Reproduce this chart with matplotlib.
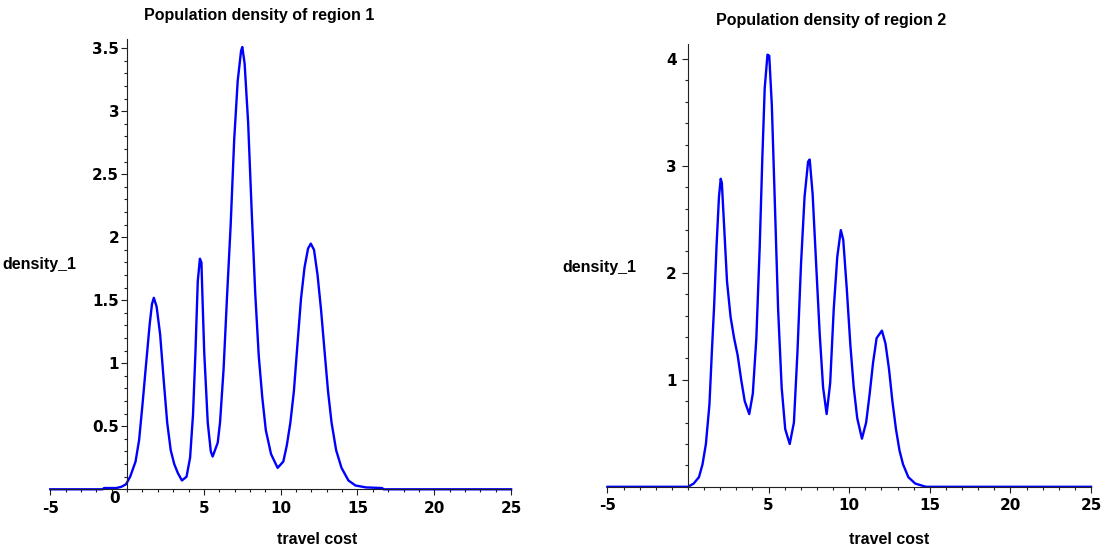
import numpy as np
import matplotlib.pyplot as plt
from matplotlib.ticker import MultipleLocator, FixedLocator, FixedFormatter

plt.rcParams['font.family'] = ['Liberation Sans', 'DejaVu Sans']
plt.rcParams['font.weight'] = 'bold'

# travel cost samples and population densities, region 1
cost_1 = [-5, -1.6, -1.5, -0.7, -0.37, -0.07, 0.2, 0.55, 0.78, 1.0, 1.24, 1.47, 1.62, 1.74,
          1.92, 2.15, 2.38, 2.61, 2.84, 3.07, 3.30, 3.57, 3.87, 4.1, 4.29, 4.45, 4.6, 4.74,
          4.84, 4.9, 5.02, 5.25, 5.45, 5.57, 5.75, 5.9, 6.05, 6.28, 6.51, 6.74, 6.97, 7.2,
          7.42, 7.5, 7.65, 7.88, 8.11, 8.34, 8.57, 8.8, 9.03, 9.37, 9.8, 10.17, 10.4, 10.63,
          10.86, 11.09, 11.32, 11.55, 11.78, 11.96, 12.17, 12.4, 12.63, 12.86, 13.08, 13.31,
          13.61, 13.96, 14.41, 14.87, 15.56, 16.6, 16.7, 25]
density_1 = [0, 0, 0.01, 0.01, 0.02, 0.04, 0.10, 0.22, 0.39, 0.67, 1.00, 1.31, 1.47, 1.52,
             1.45, 1.23, 0.87, 0.53, 0.31, 0.20, 0.13, 0.07, 0.10, 0.25, 0.59, 1.09, 1.65, 1.83,
             1.80, 1.55, 1.09, 0.53, 0.30, 0.26, 0.32, 0.37, 0.53, 0.95, 1.54, 2.09, 2.77, 3.24,
             3.48, 3.51, 3.38, 2.91, 2.21, 1.56, 1.06, 0.73, 0.47, 0.28, 0.17, 0.22, 0.35, 0.53,
             0.78, 1.15, 1.51, 1.76, 1.91, 1.95, 1.90, 1.70, 1.42, 1.09, 0.78, 0.53,
             0.31, 0.17, 0.07, 0.03, 0.015, 0.01, 0, 0]

# region 2
cost_2 = [-5, 0, 0.35, 0.68, 0.9, 1.11, 1.33, 1.48, 1.62, 1.77, 1.92, 2.03, 2.1, 2.25, 2.42,
          2.64, 2.86, 3.08, 3.3, 3.52, 3.8, 4.02, 4.24, 4.45, 4.61, 4.76, 4.93, 5.04, 5.2,
          5.37, 5.59, 5.81, 6.03, 6.31, 6.57, 6.79, 7.01, 7.23, 7.45, 7.55, 7.73, 7.95, 8.17,
          8.38, 8.6, 8.82, 9.04, 9.26, 9.48, 9.63, 9.85, 10.07, 10.28, 10.5, 10.79, 11.05,
          11.27, 11.48, 11.7, 12.03, 12.25, 12.47, 12.68, 12.9, 13.12, 13.34, 13.67, 14.1,
          14.54, 14.76, 25]
density_2 = [0, 0, 0.03, 0.09, 0.21, 0.40, 0.77, 1.26, 1.69, 2.25, 2.71, 2.88, 2.84, 2.41, 1.92,
             1.59, 1.39, 1.23, 1.00, 0.80, 0.68, 0.87, 1.39, 2.25, 3.07, 3.73, 4.04, 4.03, 3.57,
             2.74, 1.66, 0.93, 0.54, 0.40, 0.60, 1.26, 2.08, 2.71, 3.04, 3.06, 2.74, 2.08, 1.43,
             0.93, 0.68, 0.97, 1.66, 2.15, 2.40, 2.31, 1.85, 1.33, 0.93, 0.64, 0.45, 0.60,
             0.87, 1.16, 1.39, 1.46, 1.34, 1.10, 0.80, 0.54, 0.34, 0.21, 0.09, 0.03,
             0.01, 0, 0]

x_ticks = [-5, 5, 10, 15, 20, 25]
y_ticks_1 = [0.5, 1, 1.5, 2, 2.5, 3, 3.5]
y_ticks_2 = [1, 2, 3, 4]

W, H = 1102, 552
fig = plt.figure(figsize=(W / 100, H / 100), dpi=100)

TICK_FONT = dict(family=['DejaVu Sans'], size=11, weight='bold')


def px_axes(left, right, top, bottom):
    return fig.add_axes([left / W, 1 - bottom / H, (right - left) / W, (bottom - top) / H])


def maple_axes(ax, ytop, yticks, yminor):
    ax.set_xlim(-5, 25)
    ax.set_ylim(0, ytop)
    for s in ['top', 'right']:
        ax.spines[s].set_visible(False)
    ax.spines['left'].set_position(('data', 0))
    ax.spines['bottom'].set_position(('data', 0))
    for s in ['left', 'bottom']:
        ax.spines[s].set_color('#202020')
        ax.spines[s].set_linewidth(0.8)
    ax.xaxis.set_major_locator(FixedLocator(x_ticks))
    ax.xaxis.set_major_formatter(FixedFormatter([str(v) for v in x_ticks]))
    ax.xaxis.set_minor_locator(MultipleLocator(1))
    ax.yaxis.set_major_locator(FixedLocator(yticks))
    ax.yaxis.set_major_formatter(FixedFormatter([f'{v:g}' for v in yticks]))
    ax.yaxis.set_minor_locator(MultipleLocator(yminor))
    ax.tick_params(which='both', direction='out', color='#202020', width=0.8)
    ax.tick_params(which='major', length=4.2)
    ax.tick_params(which='minor', length=2.4)
    ax.tick_params(axis='x', pad=4)
    ax.tick_params(axis='y', pad=1.5)
    for lab in ax.get_xticklabels() + ax.get_yticklabels():
        lab.set_fontproperties(TICK_FONT)


ax1 = px_axes(50.3, 511.1, 38.7, 489.3)
ax1.plot(cost_1, density_1, color='#0000ff', lw=1.7, clip_on=False)
maple_axes(ax1, 3.576, y_ticks_1, 0.1)
ax1.annotate('0', xy=(0, 0), xycoords='data', xytext=(-5, -1.5), textcoords='offset points',
             ha='right', va='top', fontproperties=TICK_FONT)

ax2 = px_axes(607.4, 1091.0, 44.0, 486.8)
ax2.plot(cost_2, density_2, color='#0000ff', lw=1.7, clip_on=False)
maple_axes(ax2, 4.14, y_ticks_2, 0.2)
ax2.tick_params(axis='y', pad=4)

# titles and axis labels
lab = dict(fontsize=11.5, fontweight='bold', color='black')
fig.text(259.6 / W, 1 - 15.8 / H, 'Population density of region 1', ha='center', va='center', **lab)
fig.text(831.6 / W, 1 - 20 / H, 'Population density of region 2', ha='center', va='center', **lab)
fig.text(2.8 / W, 1 - 264.7 / H, 'density_1', ha='left', va='center', **lab)
fig.text(562.3 / W, 1 - 267.5 / H, 'density_1', ha='left', va='center', **lab)
fig.text(317.6 / W, 1 - 540 / H, 'travel cost', ha='center', va='center', **lab)
fig.text(888.8 / W, 1 - 540 / H, 'travel cost', ha='center', va='center', **lab)

fig.savefig('out.png', dpi=100)
